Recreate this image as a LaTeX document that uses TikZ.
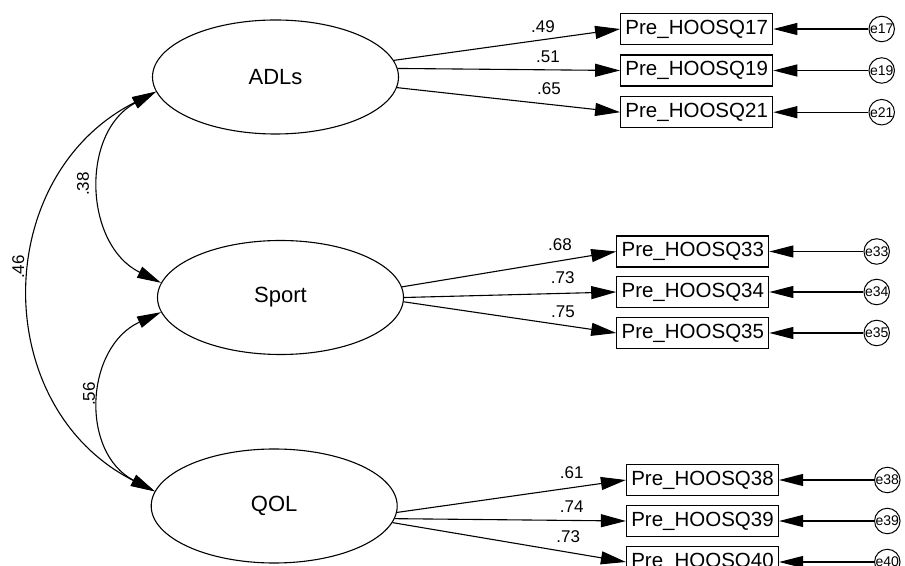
\documentclass[tikz,border=0pt]{standalone}
\usepackage{fontspec}
\setmainfont{Liberation Sans}
\usetikzlibrary{shapes.geometric,arrows.meta}
\begin{document}
\begin{tikzpicture}[x=1pt,y=1pt,
  latent/.style={ellipse,draw,line width=1.1pt,minimum width=246pt,minimum height=114pt,inner sep=0pt,font=\fontsize{22}{24}\selectfont},
  observed/.style={rectangle,draw,line width=1.2pt,minimum width=152pt,minimum height=31pt,inner sep=0pt,font=\fontsize{20.5}{22}\selectfont},
  errvar/.style={circle,draw,line width=1pt,minimum size=25.5pt,inner sep=0pt,font=\fontsize{14}{15}\selectfont},
  coef/.style={font=\fontsize{17}{18}\selectfont,inner sep=0pt},
  load/.style={draw,line width=1.1pt,-{Triangle[length=25pt,width=13pt]}},
  resid/.style={draw,line width=1.1pt,-{Triangle[length=24pt,width=12pt]}},
  cov/.style={draw,line width=1.1pt,{Triangle[length=24pt,width=12pt]}-{Triangle[length=24pt,width=12pt]}},
]
\useasboundingbox (0,0) rectangle (905,565);
\clip (0,0) rectangle (905,565);

% latent factors
\node[latent] (ADLs)  at (275.5,488)  {ADLs};
\node[latent] (Sport) at (280.5,267.5) {Sport};
\node[latent] (QOL)   at (274.2,59)   {QOL};

% indicators
\node[observed] (Q17) at (696.7,536)   {Pre\_HOOSQ17};
\node[observed] (Q19) at (696.7,494.5) {Pre\_HOOSQ19};
\node[observed] (Q21) at (696.7,452.8) {Pre\_HOOSQ21};
\node[observed] (Q33) at (692.8,313.5) {Pre\_HOOSQ33};
\node[observed] (Q34) at (692.8,273)   {Pre\_HOOSQ34};
\node[observed] (Q35) at (692.8,232)   {Pre\_HOOSQ35};
\node[observed] (Q38) at (702.5,85)    {Pre\_HOOSQ38};
\node[observed] (Q39) at (702.5,44)    {Pre\_HOOSQ39};
\node[observed] (Q40) at (702.5,3)     {Pre\_HOOSQ40};

% error terms
\node[errvar] (e17) at (881.7,536)   {e17};
\node[errvar] (e19) at (881.7,494.5) {e19};
\node[errvar] (e21) at (881.7,452.8) {e21};
\node[errvar] (e33) at (876.7,313.5) {e33};
\node[errvar] (e34) at (876.7,273)   {e34};
\node[errvar] (e35) at (876.7,232)   {e35};
\node[errvar] (e38) at (887.3,85)    {e38};
\node[errvar] (e39) at (887.3,44)    {e39};
\node[errvar] (e40) at (887.3,3)     {e40};

% factor loadings
\draw[load] (ADLs.8)    -- (Q17.west);
\draw[load] (ADLs.4)    -- (Q19.west);
\draw[load] (ADLs.355)  -- (Q21.west);
\draw[load] (Sport.5)   -- (Q33.west);
\draw[load] (Sport.0)   -- (Q34.west);
\draw[load] (Sport.358) -- (Q35.west);
\draw[load] (QOL.357)   -- (Q38.west);
\draw[load] (QOL.354)   -- (Q39.west);
\draw[load] (QOL.352)   -- (Q40.west);

% error paths
\foreach \e/\q in {e17/Q17,e19/Q19,e21/Q21,e33/Q33,e34/Q34,e35/Q35,e38/Q38,e39/Q39,e40/Q40}
  \draw[resid] (\e) -- (\q);

% loading values
\node[coef] (l49) at (543,538)   {.49};
\node[coef] (l51) at (548,508)   {.51};
\node[coef] (l65) at (549,476)   {.65};
\node[coef] (l68) at (560,320)   {.68};
\node[coef] (l73a) at (562.7,287) {.73};
\node[coef] (l75) at (563,253)   {.75};
\node[coef] (l61) at (571.7,92)  {.61};
\node[coef] (l74) at (571.7,58.3) {.74};
\node[coef] (l73b) at (568.3,28) {.73};

% factor covariances
\draw[cov] (ADLs.187) .. controls +(-76,-41) and +(-77,38) .. (Sport.173);
\draw[cov] (Sport.187) .. controls +(-76,-35) and +(-75,39) .. (QOL.173);
\draw[cov] (ADLs.187) .. controls +(-166,-84) and +(-166,84) .. (QOL.173);

\node[coef,rotate=90] (c38) at (83,381) {.38};
\node[coef,rotate=90] (c56) at (89,171) {.56};
\node[coef,rotate=90] (c46) at (18.3,298) {.46};
\end{tikzpicture}
\end{document}
